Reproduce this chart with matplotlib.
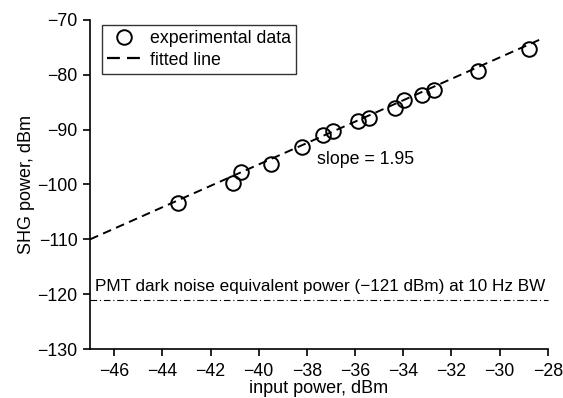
import numpy as np
import matplotlib
matplotlib.use("Agg")
import matplotlib.pyplot as plt

plt.rcParams['font.family'] = ['Liberation Sans', 'DejaVu Sans']

# dados
input_dbm = [-43.33, -41.07, -40.74, -39.5, -38.22, -37.34, -36.92, -35.86,
             -35.41, -34.36, -33.96, -33.23, -32.73, -30.88, -28.76]
shg_dbm = [-103.45, -99.8, -97.8, -96.3, -93.2, -90.9, -90.2, -88.4,
           -87.8, -86.1, -84.6, -83.7, -82.8, -79.4, -75.35]

# reta ajustada
slope = 1.95
fit_x = [-47, -28.2]
fit_y0 = -110  # valor em x = -47
pmt_noise = -121

xticks = list(range(-46, -27, 2))
yticks = list(range(-130, -69, 10))

fs = 12.8

fig = plt.figure(figsize=(5.63, 3.98), dpi=100)
ax = fig.add_axes([0.16, 0.123, 0.813, 0.827])

fx = np.array(fit_x)
fy = fit_y0 + slope * (fx - fit_x[0])
ax.plot(fx, fy, color='black', lw=1.4, ls=(0, (4.5, 2.8)), clip_on=False,
        label='fitted line', zorder=2)
ax.plot(input_dbm, shg_dbm, 'o', ms=10.5, mfc='none', mec='black', mew=1.4,
        clip_on=False, label='experimental data', zorder=3)

ax.plot([-47, -28], [pmt_noise, pmt_noise], color='black', lw=0.8,
        ls=(0, (6, 2.5, 1, 2.5)), clip_on=False)
ax.text(-46.8, pmt_noise + 1.0,
        'PMT dark noise equivalent power (\u2212121 dBm) at 10 Hz BW',
        fontsize=12.3, ha='left', va='bottom')
ax.text(-37.6, -95.5, 'slope = 1.95', fontsize=fs, ha='left', va='center')

ax.set_xlim(-47, -28)
ax.set_ylim(-130, -70)
ax.set_xticks(xticks)
ax.set_yticks(yticks)
ax.set_xticklabels(['\u2212%d' % abs(t) for t in xticks])
ax.set_yticklabels(['\u2212%d' % abs(t) for t in yticks])
ax.spines['top'].set_visible(False)
ax.spines['right'].set_visible(False)
for s in ['left', 'bottom']:
    ax.spines[s].set_linewidth(1.2)
ax.tick_params(direction='out', length=5, width=1.2, labelsize=fs, pad=4)
ax.tick_params(axis='x', pad=5)
ax.set_xlabel('input power, dBm', fontsize=13, labelpad=0)
ax.set_ylabel('SHG power, dBm', fontsize=13, labelpad=2)

h, l = ax.get_legend_handles_labels()
leg = ax.legend(h[::-1], l[::-1], loc='upper left', bbox_to_anchor=(0.026, 0.985),
                borderaxespad=0, fontsize=fs, frameon=True, fancybox=False,
                edgecolor='black', borderpad=0.3, handlelength=1.9,
                labelspacing=0.25, handletextpad=0.5)
leg.get_frame().set_linewidth(1.0)
# na legenda o tracejado tem só dois traços grossos
leg.get_lines()[1].set_linewidth(1.6)
leg.get_lines()[1].set_linestyle((0, (5.8, 3.2)))

fig.savefig('out.png', dpi=100)
